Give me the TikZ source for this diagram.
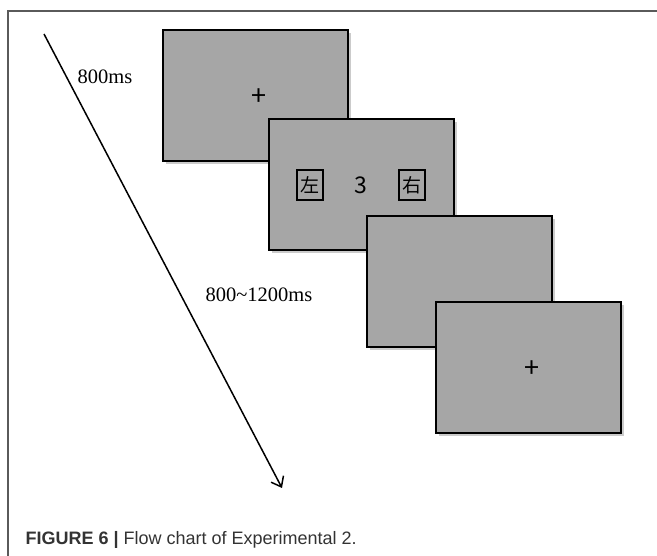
\documentclass[tikz,border=0pt]{standalone}
\usepackage{fontspec}
\setmainfont{Liberation Serif}
\setsansfont{Liberation Sans}
\newfontfamily\cjk{Noto Sans CJK SC}
\usetikzlibrary{arrows.meta, shadows}

\definecolor{screengray}{HTML}{A6A6A6}
\definecolor{shadowgray}{HTML}{CBCBCB}
\definecolor{framegray}{HTML}{5A5A5A}
\definecolor{captiongray}{HTML}{333333}

\begin{document}
\begin{tikzpicture}[x=1pt, y=-1pt,
		screen/.style={draw=black, line width=2pt, fill=screengray, minimum width=185pt, minimum height=131pt, inner sep=0pt,
			drop shadow={shadow xshift=3pt, shadow yshift=-3pt, fill=shadowgray, opacity=1}},
		cue/.style={draw=black, line width=1.4pt, fill=screengray, minimum width=26pt, minimum height=30pt, inner sep=0pt, font=\cjk\fontsize{19}{20}\selectfont},
		fixation/.style={font=\cjk\fontsize{27}{27}\selectfont},
		timing/.style={font=\fontsize{20.5}{24}\selectfont}]
		\useasboundingbox (0, 0) rectangle (657, 556);

		% frame
		\draw[framegray, line width=1.5pt] (8, 556) -- (8, 11) -- (657, 11);

		% screens
		\node[screen] (fix1) at (255.5, 95.5) {};
		\node[screen] (stim) at (361, 184.5) {};
		\node[screen] (blank) at (459.5, 282) {};
		\node[screen] (fix2) at (528.5, 368) {};

		\node[fixation] (plus1) at (259, 97) {+};
		\node[cue] (left) at (310, 185) {左};
		\node[font=\cjk\fontsize{23}{24}\selectfont] (num) at (361, 185) {3};
		\node[cue] (right) at (412, 185) {右};
		\node[fixation] (plus2) at (532, 369) {+};

		% time axis
		\coordinate (tstart) at (44, 34);
		\coordinate (tend) at (282, 488);
		\draw[line width=1.5pt, -{Straight Barb[length=9pt, width=14pt, line width=1.5pt]}] (tstart) -- (tend);
		\node[timing] (t1) at (105, 77) {800ms};
		\node[timing] (t2) at (259, 295) {800\textasciitilde1200ms};

		% caption
		\node[anchor=west, text=captiongray, font=\sffamily\fontsize{18}{20}\selectfont] (cap) at (22, 540) {\textbf{FIGURE 6 |} Flow chart of Experimental 2.};
	\end{tikzpicture}
\end{document}
